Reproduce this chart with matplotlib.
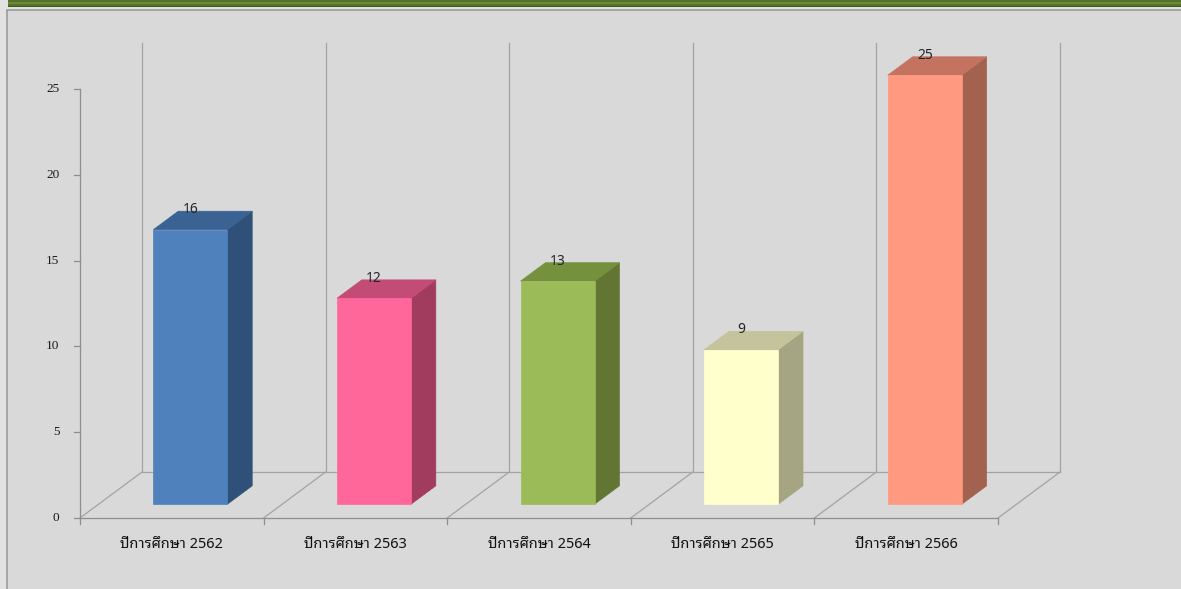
import matplotlib
matplotlib.use("Agg")
import matplotlib.pyplot as plt
from matplotlib import font_manager as fm
from matplotlib.patches import Polygon, Rectangle

# ---------------- data ----------------
categories = ["ปีการศึกษา 2562", "ปีการศึกษา 2563", "ปีการศึกษา 2564",
              "ปีการศึกษา 2565", "ปีการศึกษา 2566"]
values = [16, 12, 13, 9, 25]
y_ticks = [0, 5, 10, 15, 20, 25]
front_colors = ["#4f81bd", "#ff6699", "#9bbb59", "#ffffcc", "#ff9980"]
top_colors = ["#3a6394", "#c24c76", "#76913e", "#c3c39c", "#c47361"]
side_colors = ["#2f5179", "#a13c5f", "#627532", "#a5a583", "#a3624f"]

# ---------------- fonts ----------------
available = {f.name for f in fm.fontManager.ttflist}
preferred = ["Noto Sans Thai Looped", "Noto Looped Thai UI", "Noto Sans Thai UI",
             "Noto Sans Thai", "Sarabun", "Anuphan", "IBM Plex Sans Thai",
             "Prompt", "Kanit", "Athiti"]
thai_font = next((p for p in preferred if p in available), None)
if thai_font is None:
    from matplotlib.ft2font import FT2Font
    for f in fm.fontManager.ttflist:
        try:
            if 0x0E01 in FT2Font(f.fname).get_charmap():
                thai_font = f.name
                break
        except Exception:
            pass
sans = [thai_font, "DejaVu Sans"] if thai_font else ["DejaVu Sans"]
serif = ["Liberation Serif", "DejaVu Serif"]

# ---------------- layout (pixels -> data) ----------------
W, H = 1181, 589
fig = plt.figure(figsize=(W / 100, H / 100), dpi=100)
fig.patch.set_facecolor("#e2e2e2")

# chart frame and green header bar
fig.patches.append(Rectangle((7 / W, -0.05), 1, (H - 10) / H + 0.05, transform=fig.transFigure,
                             facecolor="#d9d9d9", edgecolor="#9a9a9a", lw=1.2, zorder=0))
fig.patches.append(Rectangle((8 / W, (H - 7) / H), 1, 7 / H, transform=fig.transFigure,
                             facecolor="#56722a", edgecolor="none", zorder=0.5))
fig.patches.append(Rectangle((8 / W, (H - 4) / H), 1, 2 / H, transform=fig.transFigure,
                             facecolor="#6a8a35", edgecolor="none", zorder=0.55))
fig.patches.append(Rectangle((8 / W, (H - 7) / H), 1, 1.5 / H, transform=fig.transFigure,
                             facecolor="#3e5a1a", edgecolor="none", zorder=0.6))

ax = fig.add_axes([0, 0, 1, 1])
ax.set_zorder(2)
ax.set_facecolor("none")
ax.patch.set_visible(False)
ax.axis("off")

x0_px, y0_px = 80, 518          # front-floor origin (pixels, from top)
px_per_cat = 183.6
px_per_unit = 17.16
ax.set_xlim(-x0_px / px_per_cat, (W - x0_px) / px_per_cat)
ax.set_ylim((y0_px - H) / px_per_unit, y0_px / px_per_unit)

DX = 62 / px_per_cat            # depth offset
DY = 46 / px_per_unit
n = len(categories)
ymax = y_ticks[-1]

grid_c = "#a3a3a3"
axis_c = "#8e8e8e"
lw = 0.9

# back wall verticals
for k in range(n + 1):
    ax.plot([k + DX, k + DX], [DY, DY + ymax], color=grid_c, lw=lw, zorder=1)
# floor: back edge, diagonals, front edge
ax.plot([DX, n + DX], [DY, DY], color=grid_c, lw=lw, zorder=1)
for k in range(n + 1):
    ax.plot([k, k + DX], [0, DY], color=grid_c, lw=lw, zorder=1)
ax.plot([0, n], [0, 0], color=axis_c, lw=lw, zorder=1)
tick_dy = 6 / px_per_unit
for k in range(n + 1):
    ax.plot([k, k], [0, -tick_dy], color=axis_c, lw=lw, zorder=1)

# y axis
ax.plot([0, 0], [0, ymax], color=axis_c, lw=lw, zorder=1)
tick_dx = 6 / px_per_cat
for t in y_ticks:
    ax.plot([-tick_dx, 0], [t, t], color=axis_c, lw=lw, zorder=1)
    ax.text(-20.5 / px_per_cat, t, str(t), ha="right", va="center",
            family=serif, fontsize=9.5, color="#1a1a1a")

# bars
w = 74 / px_per_cat
f0, d = 0.30, 0.40
for k, (v, fc, tc, sc) in enumerate(zip(values, front_colors, top_colors, side_colors)):
    bx = k + 0.5 - w / 2 + f0 * DX
    by = f0 * DY
    ddx, ddy = d * DX, d * DY
    side = [(bx + w, by), (bx + w + ddx, by + ddy), (bx + w + ddx, by + ddy + v), (bx + w, by + v)]
    top = [(bx, by + v), (bx + ddx, by + v + ddy), (bx + w + ddx, by + v + ddy), (bx + w, by + v)]
    ax.add_patch(Polygon(side, closed=True, facecolor=sc, edgecolor=sc, lw=0.5, zorder=3))
    ax.add_patch(Polygon(top, closed=True, facecolor=tc, edgecolor=tc, lw=0.5, zorder=3))
    ax.add_patch(Rectangle((bx, by), w, v, facecolor=fc, edgecolor=fc, lw=0.5, zorder=4))
    ax.text(bx + w / 2, by + v + ddy + 0.1, str(v), ha="center", va="center",
            family=sans, fontsize=10, color="#262626", zorder=5)

# category labels
for k, c in enumerate(categories):
    ax.text(k + 0.5, -27 / px_per_unit, c, ha="center", va="center",
            family=sans, fontsize=10.5, color="#111111")

fig.savefig("out.png", dpi=100, facecolor=fig.get_facecolor())
